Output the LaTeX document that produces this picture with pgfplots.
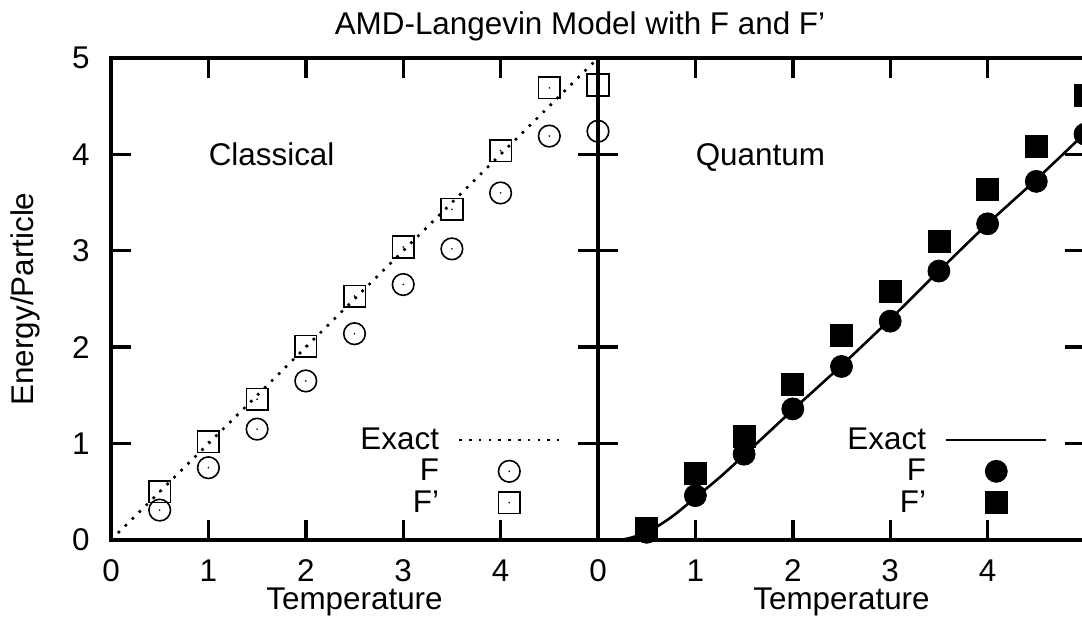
\documentclass[border=0pt]{standalone}
\usepackage{fontspec}
\setmainfont{Liberation Sans}
\usepackage{pgfplots}
\pgfplotsset{compat=1.18}
\newcommand\fsz{\fontsize{15.7}{18}\selectfont}

% gnuplot-like open marks with a dot in the middle
\pgfdeclareplotmark{dotcirc}{%
  \pgfpathcircle{\pgfpointorigin}{\pgfplotmarksize}\pgfusepathqstroke
  \pgfpathcircle{\pgfpointorigin}{0.45pt}\pgfusepathqfill}
\pgfdeclareplotmark{dotsq}{%
  \pgfpathrectangle{\pgfpoint{-\pgfplotmarksize}{-\pgfplotmarksize}}%
    {\pgfpoint{2\pgfplotmarksize}{2\pgfplotmarksize}}\pgfusepathqstroke
  \pgfpathcircle{\pgfpointorigin}{0.45pt}\pgfusepathqfill}

\pgfplotsset{
  panel/.style={
    scale only axis, width=243.5pt, height=241pt,
    xmin=0, xmax=5, ymin=0, ymax=5,
    axis line style={line width=1.7pt},
    tick align=inside, major tick length=10pt,
    every tick/.style={black, line width=1.7pt},
    xtick={0,...,4}, ytick={0,...,5},
    font=\fsz,
    /pgf/number format/assume math mode=true,
    xticklabel style={anchor=base, yshift=-21pt, inner sep=0pt},
    yticklabel style={anchor=east, xshift=-10.5pt, inner sep=0pt},
    xlabel style={at={(axis description cs:0.5,0)}, anchor=base, yshift=-35pt, inner sep=0pt},
    clip=false,
    legend plot pos=right, legend cell align=right,
    legend image code/.code={\draw[mark repeat=2,mark phase=2,##1]
      plot coordinates {(0pt,0pt) (25pt,0pt) (50pt,0pt)};},
    legend style={draw=none, fill=none, at={(0.924,0.234)}, anchor=north east,
      inner sep=0pt, row sep=3.4pt, column sep=9.5pt, font=\fsz,
      nodes={inner sep=0pt}},
  },
  open/.style={only marks, mark size=5.4pt, mark options={line width=0.8pt, solid}},
  full/.style={only marks, mark size=5.5pt},
}

\pgfplotstableread{
T E
0.5 0.31
1.0 0.75
1.5 1.15
2.0 1.65
2.5 2.14
3.0 2.65
3.5 3.02
4.0 3.60
4.5 4.19
5.0 4.24
}\clsF
\pgfplotstableread{
T E
0.5 0.50
1.0 1.02
1.5 1.46
2.0 2.01
2.5 2.53
3.0 3.04
3.5 3.43
4.0 4.04
4.5 4.69
5.0 4.72
}\clsFp
\pgfplotstableread{
T E
0.00 0.000
0.25 0.004
0.50 0.080
0.75 0.235
1.00 0.440
1.25 0.650
1.50 0.880
2.00 1.350
2.50 1.810
3.00 2.290
3.50 2.790
4.00 3.280
4.50 3.740
5.00 4.220
}\qmExact
\pgfplotstableread{
T E
0.5 0.08
1.0 0.46
1.5 0.89
2.0 1.36
2.5 1.80
3.0 2.27
3.5 2.79
4.0 3.28
4.5 3.72
5.0 4.21
}\qmF
\pgfplotstableread{
T E
0.5 0.12
1.0 0.69
1.5 1.07
2.0 1.61
2.5 2.12
3.0 2.58
3.5 3.10
4.0 3.635
4.5 4.08
5.0 4.61
}\qmFp

\begin{document}
\begin{tikzpicture}
\path[use as bounding box] (0,0) rectangle (541pt,309.5pt);
\clip (0,0) rectangle (541pt,309.5pt);

% classical panel
\begin{axis}[panel, at={(55.5pt,39.5pt)}, anchor=south west, xlabel={Temperature}]
\addplot[black, line width=1.3pt, dash pattern=on 1.3pt off 3.6pt]
  coordinates {(0,0) (5,5)};
\addlegendentry{Exact}
\addplot[open, mark=dotcirc] table[x=T,y=E] {\clsF};
\addlegendentry{F}
\addplot[open, mark=dotsq] table[x=T,y=E] {\clsFp};
\addlegendentry{F'}
\node[anchor=base west, inner sep=0pt] at (axis cs:1.0,3.883) {Classical};
\end{axis}

% quantum panel
\begin{axis}[panel, at={(299pt,39.5pt)}, anchor=south west,
  yticklabels={}, xlabel={Temperature}]
\addplot[black, line width=1.3pt, smooth] table[x=T,y=E] {\qmExact};
\addlegendentry{Exact}
\addplot[full, mark=*, black] table[x=T,y=E] {\qmF};
\addlegendentry{F}
\addplot[full, mark=square*, black] table[x=T,y=E] {\qmFp};
\addlegendentry{F'}
\node[anchor=base west, inner sep=0pt] at (axis cs:1.0,3.883) {Quantum};
\end{axis}

\node[font=\fsz, anchor=base, inner sep=0pt] at (290pt,292pt) {AMD-Langevin Model with F and F'};
\node[font=\fsz, rotate=90, anchor=base, inner sep=0pt] at (16.5pt,160pt) {Energy/Particle};
\end{tikzpicture}
\end{document}
